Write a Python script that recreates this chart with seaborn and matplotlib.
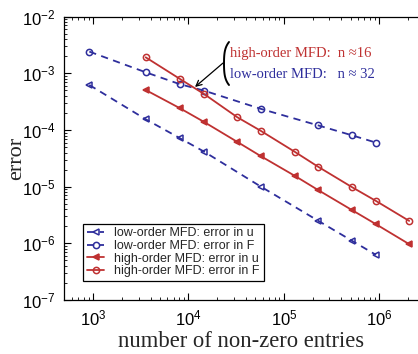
import numpy as np
import pandas as pd
import matplotlib
matplotlib.use("Agg")
import matplotlib.pyplot as plt
from matplotlib.lines import Line2D
import seaborn as sns

# values (log-log convergence plot)
n_low = [912, 3556, 8147, 14550, 57500, 227600, 513600, 923000]
low_err_u = [6.24e-4, 1.55e-4, 7.16e-5, 4.16e-5, 1.0e-5, 2.52e-6, 1.12e-6, 6.27e-7]
low_err_F = [2.42e-3, 1.045e-3, 6.43e-4, 4.96e-4, 2.36e-4, 1.21e-4, 8.1e-5, 6.0e-5]

n_high = [3556, 8147, 14550, 32500, 57500, 130600, 227600, 513600, 923000, 2.06e6]
high_err_u = [5.09e-4, 2.42e-4, 1.39e-4, 6.17e-5, 3.45e-5, 1.55e-5, 8.77e-6, 3.90e-6, 2.18e-6, 9.68e-7]
high_err_F = [1.92e-3, 7.96e-4, 4.33e-4, 1.68e-4, 9.64e-5, 4.11e-5, 2.26e-5, 9.9e-6, 5.61e-6, 2.49e-6]

labels = ["low-order MFD: error in u", "low-order MFD: error in F",
          "high-order MFD: error in u", "high-order MFD: error in F"]

blue = "#2e2e9c"
red = "#bf3131"
serif = ["Liberation Serif", "DejaVu Serif"]

sns.set_style("ticks")
plt.rcParams["font.family"] = ["Liberation Sans", "DejaVu Sans"]
plt.rcParams["mathtext.fontset"] = "custom"
plt.rcParams["mathtext.rm"] = "Liberation Sans"
plt.rcParams["mathtext.it"] = "Liberation Sans:italic"

W, H = 418, 354
fig = plt.figure(figsize=(W / 100, H / 100), dpi=100)
ax = fig.add_axes([64 / W, 54 / H, 1 - 64 / W, 283.3 / H])

low = pd.DataFrame({"n": n_low, "u": low_err_u, "F": low_err_F})
high = pd.DataFrame({"n": n_high, "u": high_err_u, "F": high_err_F})

common = dict(ax=ax, lw=1.3, ms=4.5, mew=1.1, sort=False, errorbar=None)
sns.lineplot(data=low, x="n", y="u", color=blue, marker="<", linestyle="--",
             mfc="none", mec=blue, label=labels[0], **common)
sns.lineplot(data=low, x="n", y="F", color=blue, marker="o", linestyle="--",
             mfc="none", mec=blue, label=labels[1], **common)
sns.lineplot(data=high, x="n", y="u", color=red, marker="<", linestyle="-",
             mfc=red, mec=red, label=labels[2], **common)
sns.lineplot(data=high, x="n", y="F", color=red, marker="o", linestyle="-",
             mfc="none", mec=red, label=labels[3], **common)

for line in ax.get_lines()[:2]:
    line.set_dashes([4, 3])

ax.set_xscale("log")
ax.set_yscale("log")
ax.set_xlim(495, 2.55e6)
ax.set_ylim(1e-7, 1e-2)

ax.spines["right"].set_visible(False)
for s in ["left", "bottom", "top"]:
    ax.spines[s].set_color("black")
    ax.spines[s].set_linewidth(0.9)
ax.tick_params(which="both", direction="in", top=True, right=False, colors="black")
ax.tick_params(which="major", length=5, width=0.8, labelsize=12, pad=6)
ax.tick_params(which="minor", length=2.5, width=0.6)

ax.set_xlabel("number of non-zero entries", family=serif, fontsize=16.3, labelpad=2)
ax.set_ylabel("error", family=serif, fontsize=16)
ax.yaxis.set_label_coords(-0.108, 0.5)

leg = ax.legend(loc="lower left", bbox_to_anchor=(0.054, 0.067), borderaxespad=0,
                fontsize=9, fancybox=False, frameon=True, edgecolor="black",
                framealpha=1, handlelength=1.4, handletextpad=0.8, labelspacing=0.05,
                borderpad=0.3)
leg.get_frame().set_linewidth(0.9)

# arrow + brace annotation
ax.annotate("", xy=(11700, 5.75e-4), xytext=(23000, 1.52e-3),
            arrowprops=dict(arrowstyle="->", color="black", lw=0.9, shrinkA=0, shrinkB=0))
t = np.linspace(-1, 1, 60)
bx = (224 + 3.5 * t ** 4 + 1.5 * t ** 2) / W
by = 1 - (63.5 + 21.5 * t) / H
fig.add_artist(Line2D(bx, by, transform=fig.transFigure, color="black", lw=1.4))
fig.text(230 / W, 1 - 53 / H, "high-order MFD:  n \u224816", family=serif,
         fontsize=10.5, color=red, va="center", ha="left")
fig.text(230 / W, 1 - 74 / H, "low-order MFD:   n \u2248 32", family=serif,
         fontsize=10.5, color=blue, va="center", ha="left")

fig.savefig("out.png", dpi=100)
